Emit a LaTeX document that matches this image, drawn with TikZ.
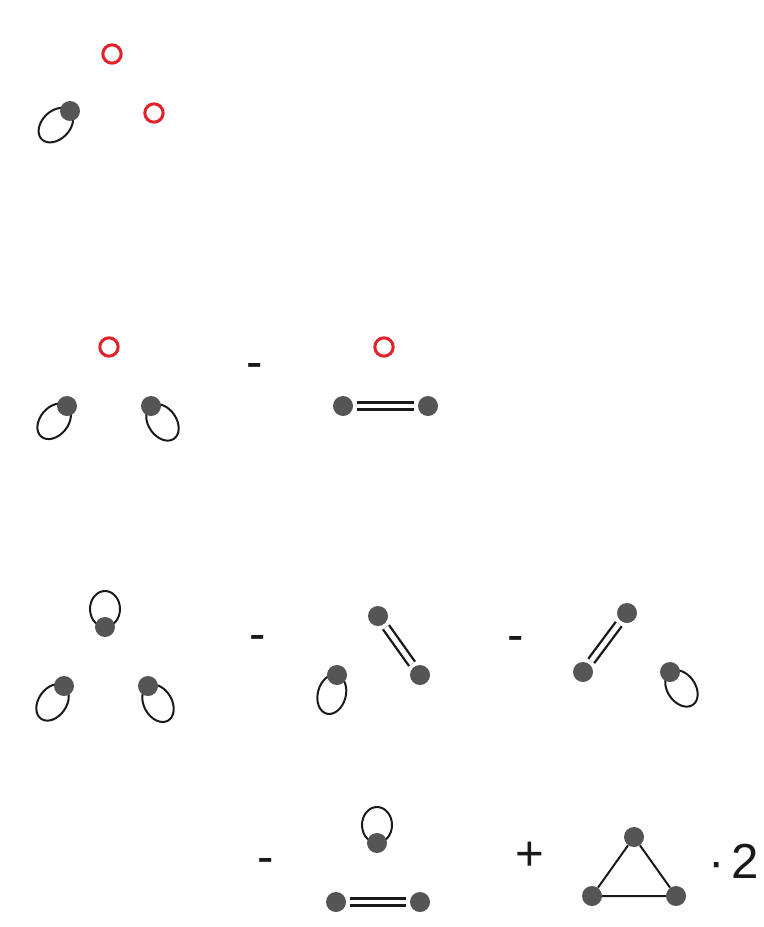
\documentclass[tikz,border=0pt]{standalone}
\usepackage{fontspec}
\setmainfont{Liberation Sans}
\usetikzlibrary{positioning,backgrounds}
\definecolor{dotgray}{HTML}{555555}
\definecolor{ringred}{HTML}{E2232A}
\newcommand{\selfloop}[4]{\draw[loopline] (#1.center) ++(#2:#3) circle[x radius=#3,y radius=#4,rotate=-#2];}

\begin{document}
\begin{tikzpicture}[x=0.03cm,y=-0.03cm,
  dot/.style={circle,fill=dotgray,minimum size=0.6cm,inner sep=0pt},
  ring/.style={circle,draw=ringred,line width=2.6pt,minimum size=0.55cm,inner sep=0pt},
  loopline/.style={line width=1.7pt,black!90},
  dbl/.style={double,double distance=4.2pt,line width=2pt,black!90,shorten <=3pt,shorten >=3pt},
  edgeline/.style={line width=1.7pt,black!90},
  op/.style={font=\fontsize{42}{50}\selectfont,inner sep=0pt,anchor=base,text=black!90}]
\useasboundingbox (0,0) rectangle (764,927);
% first row
\node[ring] (r1) at (112,54) {};
\node[ring] (r2) at (154,113) {};
\node[dot] (a1) at (70,111) {};
% second row
\node[ring] (r3) at (109,347) {};
\node[dot] (b1) at (67,406) {};
\node[dot] (b2) at (151,406) {};
\node[op] (m1) at (255,378) {-};
\node[ring] (r4) at (384,347) {};
\node[dot] (b3) at (343,406) {};
\node[dot] (b4) at (428,406) {};
\draw[dbl] (b3) -- (b4);
% third row
\node[dot] (c1) at (105,627) {};
\node[dot] (c2) at (64,686) {};
\node[dot] (c3) at (148,686) {};
\node[op] (m2) at (258,650) {-};
\node[dot] (c4) at (378,616) {};
\node[dot] (c5) at (420,675) {};
\node[dot] (c6) at (337,675) {};
\draw[dbl] (c4) -- (c5);
\node[op] (m3) at (516,651) {-};
\node[dot] (c7) at (583,672) {};
\node[dot] (c8) at (627,613) {};
\node[dot] (c9) at (670,672) {};
\draw[dbl] (c7) -- (c8);
% fourth row
\node[op] (m4) at (266,873) {-};
\node[dot] (d1) at (377,843) {};
\node[dot] (d2) at (336,902) {};
\node[dot] (d3) at (420,902) {};
\draw[dbl] (d2) -- (d3);
\node[op] (p1) at (530,870) {+};
\node[dot] (t1) at (634,837) {};
\node[dot] (t2) at (592,896) {};
\node[dot] (t3) at (676,896) {};
\draw[edgeline] (t1) -- (t2) -- (t3) -- (t1);
\node[op,anchor=base west] (f1) at (708,878) {·\kern.14em2};
% loops behind the dots
\begin{scope}[on background layer]
\selfloop{a1}{135}{20}{14}
\selfloop{b1}{130}{20}{14} \selfloop{b2}{55}{20}{14}
\selfloop{c1}{270}{18}{15} \selfloop{c2}{125}{20}{14} \selfloop{c3}{60}{20}{14}
\selfloop{c6}{105}{20}{14} \selfloop{c9}{55}{20}{14}
\selfloop{d1}{270}{18}{15}
\end{scope}
\end{tikzpicture}
\end{document}
